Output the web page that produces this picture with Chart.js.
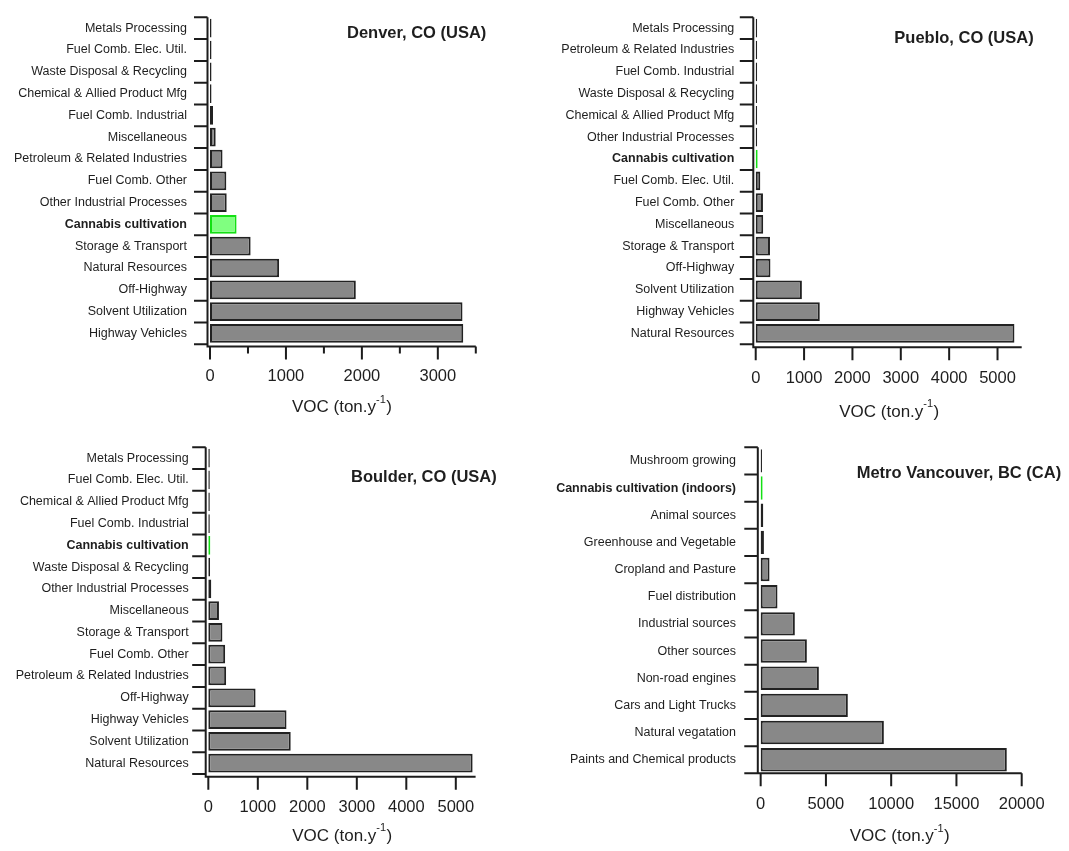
<!DOCTYPE html>
<html>
<head>
<meta charset="utf-8">
<script src="https://cdn.jsdelivr.net/npm/chart.js@4.4.1/dist/chart.umd.min.js"></script>
<style>
  html, body { margin: 0; padding: 0; background: #ffffff; }
  body { width: 1069px; height: 851px; position: relative; overflow: hidden; }
  canvas { position: absolute; display: block; }
</style>
</head>
<body>
<canvas id="denver"></canvas>
<canvas id="pueblo"></canvas>
<canvas id="boulder"></canvas>
<canvas id="vancouver"></canvas>
<script>
// VOC emission inventories by source sector (ton per year), listed top to bottom.
const denverCategories = [
  "Metals Processing", "Fuel Comb. Elec. Util.", "Waste Disposal & Recycling",
  "Chemical & Allied Product Mfg", "Fuel Comb. Industrial", "Miscellaneous",
  "Petroleum & Related Industries", "Fuel Comb. Other", "Other Industrial Processes",
  "Cannabis cultivation", "Storage & Transport", "Natural Resources",
  "Off-Highway", "Solvent Utilization", "Highway Vehicles"
];
const denverValues = [20, 20, 20, 20, 40, 75, 165, 215, 220, 350, 535, 910, 1920, 3325, 3335];
const denverTicks = [0, 1000, 2000, 3000];
const denverMinorTicks = [500, 1500, 2500, 3500];

const puebloCategories = [
  "Metals Processing", "Petroleum & Related Industries", "Fuel Comb. Industrial",
  "Waste Disposal & Recycling", "Chemical & Allied Product Mfg", "Other Industrial Processes",
  "Cannabis cultivation", "Fuel Comb. Elec. Util.", "Fuel Comb. Other",
  "Miscellaneous", "Storage & Transport", "Off-Highway",
  "Solvent Utilization", "Highway Vehicles", "Natural Resources"
];
const puebloValues = [30, 30, 30, 30, 30, 30, 40, 95, 150, 155, 295, 305, 955, 1325, 5350];
const puebloTicks = [0, 1000, 2000, 3000, 4000, 5000];
const puebloMinorTicks = [];

const boulderCategories = [
  "Metals Processing", "Fuel Comb. Elec. Util.", "Chemical & Allied Product Mfg",
  "Fuel Comb. Industrial", "Cannabis cultivation", "Waste Disposal & Recycling",
  "Other Industrial Processes", "Miscellaneous", "Storage & Transport",
  "Fuel Comb. Other", "Petroleum & Related Industries", "Off-Highway",
  "Highway Vehicles", "Solvent Utilization", "Natural Resources"
];
const boulderValues = [30, 30, 30, 30, 40, 35, 60, 215, 285, 340, 360, 955, 1580, 1665, 5340];
const boulderTicks = [0, 1000, 2000, 3000, 4000, 5000];
const boulderMinorTicks = [];

const vancouverCategories = [
  "Mushroom growing", "Cannabis cultivation (indoors)", "Animal sources",
  "Greenhouse and Vegetable", "Cropland and Pasture", "Fuel distribution",
  "Industrial sources", "Other sources", "Non-road engines",
  "Cars and Light Trucks", "Natural vegatation", "Paints and Chemical products"
];
const vancouverValues = [100, 150, 200, 250, 680, 1290, 2620, 3540, 4460, 6680, 9440, 18860];
const vancouverTicks = [0, 5000, 10000, 15000, 20000];
const vancouverMinorTicks = [];

// ---- styling ----
const FONT = '"Liberation Sans", Arial, Helvetica, sans-serif';
const TEXT = '#1e1e1e';
const INK = '#1c1c1c';
const GREY_FILL = '#888888';
const GREY_EDGE = '#222222';
const GREEN_FILL = '#80ff80';
const GREEN_EDGE = '#14e014';

const isCannabis = (label) => label.indexOf('Cannabis') === 0;

// Panel layout in page pixels: box = canvas rect, axis/plot edges, titles.
const panels = [
  {
    canvasId: 'denver', title: 'Denver, CO (USA)',
    categories: denverCategories, values: denverValues,
    major: denverTicks, minor: denverMinorTicks, min: -33, max: 3500,
    box: [0, 0, 534, 425], axisLeft: 207.5, top: 17.3, right: 475.8, catBottom: 344.3, gap: 2.2,
    labelGap: 20.5, tickPad: 22.5,
    titleX: 347, titleY: 33.3, axisTitleX: 341.7, axisTitleY: 407.5
  },
  {
    canvasId: 'pueblo', title: 'Pueblo, CO (USA)',
    categories: puebloCategories, values: puebloValues,
    major: puebloTicks, minor: puebloMinorTicks, min: -50, max: 5500,
    box: [534, 0, 535, 425], axisLeft: 753.3, top: 17.3, right: 1021.7, catBottom: 344.3, gap: 3,
    labelGap: 19, tickPad: 23.8,
    titleX: 894.3, titleY: 38, axisTitleX: 889, axisTitleY: 412
  },
  {
    canvasId: 'boulder', title: 'Boulder, CO (USA)',
    categories: boulderCategories, values: boulderValues,
    major: boulderTicks, minor: boulderMinorTicks, min: -53, max: 5400,
    box: [0, 425, 534, 426], axisLeft: 205.7, top: 447.3, right: 475.6, catBottom: 774, gap: 2.7,
    labelGap: 17, tickPad: 24,
    titleX: 351, titleY: 477.5, axisTitleX: 342, axisTitleY: 836
  },
  {
    canvasId: 'vancouver', title: 'Metro Vancouver, BC (CA)',
    categories: vancouverCategories, values: vancouverValues,
    major: vancouverTicks, minor: vancouverMinorTicks, min: -220, max: 20000,
    box: [534, 425, 535, 426], axisLeft: 757.8, top: 447.3, right: 1021.7, catBottom: 773.3, gap: 0,
    labelGap: 21.8, tickPad: 21.2,
    titleX: 856.7, titleY: 473.3, axisTitleX: 899.5, axisTitleY: 836.7
  }
];

// Draws the axis spines, category separators, x tick marks, the panel title
// and the "VOC (ton.y-1)" axis title with its raised exponent.
function makeDecor(p) {
  const ox = p.box[0], oy = p.box[1];
  return {
    id: 'axesDecor',
    afterDraw(chart) {
      const { ctx, chartArea: a, scales: { x, y } } = chart;
      const axisY = a.bottom + p.gap;
      ctx.save();
      ctx.strokeStyle = INK;
      ctx.lineWidth = 2;
      ctx.lineCap = 'butt';
      ctx.beginPath();
      ctx.moveTo(a.left, a.top);
      ctx.lineTo(a.left, axisY + 1);
      ctx.moveTo(a.left - 1, axisY);
      ctx.lineTo(a.right, axisY);
      const n = y.ticks.length;
      for (let i = 0; i <= n; i++) {
        let py;
        if (i === 0) py = y.top;
        else if (i === n) py = y.bottom;
        else py = (y.getPixelForTick(i - 1) + y.getPixelForTick(i)) / 2;
        ctx.moveTo(a.left - 13.5, py);
        ctx.lineTo(a.left, py);
      }
      p.major.forEach(v => {
        const px = x.getPixelForValue(v);
        ctx.moveTo(px, axisY);
        ctx.lineTo(px, axisY + 13);
      });
      p.minor.forEach(v => {
        const px = x.getPixelForValue(v);
        ctx.moveTo(px, axisY);
        ctx.lineTo(px, axisY + 7);
      });
      ctx.stroke();

      // panel title
      ctx.fillStyle = TEXT;
      ctx.textAlign = 'left';
      ctx.textBaseline = 'middle';
      ctx.font = 'bold 16.5px ' + FONT;
      ctx.fillText(p.title, p.titleX - ox, p.titleY - oy);

      // axis title with superscript
      const big = '17px ' + FONT, small = '11px ' + FONT;
      ctx.font = big;
      const w1 = ctx.measureText('VOC (ton.y').width;
      const w3 = ctx.measureText(')').width;
      ctx.font = small;
      const w2 = ctx.measureText('-1').width;
      const x0 = p.axisTitleX - ox - (w1 + w2 + w3) / 2;
      const cy = p.axisTitleY - oy;
      ctx.font = big;
      ctx.fillText('VOC (ton.y', x0, cy);
      ctx.font = small;
      ctx.fillText('-1', x0 + w1, cy - 8);
      ctx.font = big;
      ctx.fillText(')', x0 + w1 + w2 + 0.5, cy);
      ctx.restore();
    }
  };
}

function buildChart(p) {
  const [bx, by, bw, bh] = p.box;
  const canvas = document.getElementById(p.canvasId);
  canvas.width = bw;
  canvas.height = bh;
  canvas.style.left = bx + 'px';
  canvas.style.top = by + 'px';
  canvas.style.width = bw + 'px';
  canvas.style.height = bh + 'px';
  const L = p.axisLeft - bx, T = p.top - by, R = p.right - bx, B = p.catBottom - by;

  return new Chart(canvas, {
    type: 'bar',
    data: {
      labels: p.categories,
      datasets: [{
        data: p.values,
        backgroundColor: p.categories.map(c => isCannabis(c) ? GREEN_FILL : GREY_FILL),
        borderColor: p.categories.map(c => isCannabis(c) ? GREEN_EDGE : GREY_EDGE),
        borderWidth: 2,
        borderSkipped: false,
        barPercentage: 0.86,
        categoryPercentage: 1
      }]
    },
    options: {
      indexAxis: 'y',
      responsive: false,
      animation: false,
      devicePixelRatio: 1,
      layout: { padding: { top: T, right: bw - R, left: 0, bottom: 0 } },
      plugins: { legend: { display: false }, tooltip: { enabled: false } },
      scales: {
        y: {
          type: 'category',
          offset: true,
          grid: { display: false, drawTicks: false },
          border: { display: false },
          ticks: {
            autoSkip: false,
            padding: p.labelGap,
            color: TEXT,
            font: (c) => ({
              family: FONT,
              size: 12.5,
              weight: isCannabis(p.categories[c.index] || '') ? 'bold' : 'normal'
            })
          },
          afterFit: (s) => {
            s.width = L;
            s.paddingTop = 0;
            s.paddingBottom = 0;
          }
        },
        x: {
          type: 'linear',
          min: p.min,
          max: p.max,
          grid: { display: false, drawTicks: false },
          border: { display: false },
          ticks: {
            padding: p.tickPad,
            color: TEXT,
            font: { family: FONT, size: 16.5 },
            maxRotation: 0,
            autoSkip: false,
            callback: (v) => String(v)
          },
          afterBuildTicks: (s) => { s.ticks = p.major.map(v => ({ value: v })); },
          afterFit: (s) => {
            s.height = bh - B;
            s.paddingLeft = 0;
            s.paddingRight = 0;
          }
        }
      }
    },
    plugins: [makeDecor(p)]
  });
}

panels.forEach(buildChart);
</script>
</body>
</html>
